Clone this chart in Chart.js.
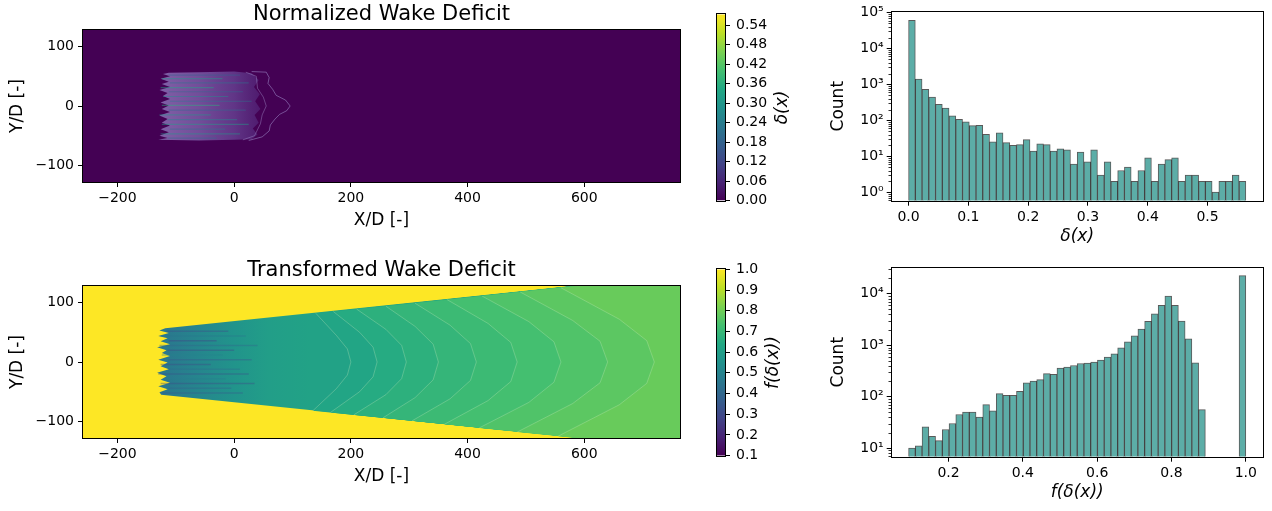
<!DOCTYPE html>
<html>
<head>
<meta charset="utf-8">
<script src="https://cdn.jsdelivr.net/npm/chart.js@4.4.1/dist/chart.umd.min.js"></script>
<style>
  html, body { margin: 0; padding: 0; background: #fff; }
  #fig { position: relative; width: 1272px; height: 511px; overflow: hidden; background: #fff; }
  #fig canvas { position: absolute; }
</style>
</head>
<body>
<div id="fig">
  <canvas id="wakeTop" width="700" height="240" style="left:0;top:0"></canvas>
  <canvas id="wakeBottom" width="700" height="240" style="left:0;top:256px"></canvas>
  <canvas id="cbarTop" width="110" height="215" style="left:700px;top:0"></canvas>
  <canvas id="cbarBottom" width="110" height="215" style="left:700px;top:255px"></canvas>
  <canvas id="histTop" width="452" height="255" style="left:820px;top:0"></canvas>
  <canvas id="histBottom" width="452" height="255" style="left:820px;top:256px"></canvas>
</div>
<script>
// ---- histogram: normalized wake deficit (50 bins) ----
const deficitBinRange = [0.0, 0.564];
const deficitCounts = [61000, 1400, 725, 444, 278, 220, 134, 107, 91, 71,
                       72, 41, 25, 45, 24, 20, 21, 29, 14, 22,
                       21, 14, 16, 15, 6, 13, 7, 15, 3, 7,
                       2, 4, 5, 2, 4, 9, 2, 6, 8, 9,
                       2, 3, 3, 2, 2, 1, 2, 2, 3, 2];
const deficitXRange = [-0.0282, 0.5922];
const deficitXTicks = [0.0, 0.1, 0.2, 0.3, 0.4, 0.5];
const deficitYRange = [0.577, 1.06e5];
const deficitYTicks = [1, 10, 100, 1000, 10000, 100000];

// ---- histogram: transformed wake deficit (50 bins, a gap before the last one) ----
const transBinRange = [0.0925, 1.0];
const transCounts = [10, 11, 26, 17, 14, 23, 30, 45, 50, 50,
                     40, 70, 53, 114, 106, 106, 127, 185, 200, 214,
                     280, 272, 357, 374, 402, 440, 447, 468, 512, 586,
                     680, 889, 1160, 1520, 2060, 2900, 4070, 5910, 9000, 5910,
                     2950, 1330, 454, 56, null, null, null, null, null, 22500];
const transXRange = [0.0471, 1.0454];
const transXTicks = [0.2, 0.4, 0.6, 0.8, 1.0];
const transYRange = [6.8, 32000];
const transYTicks = [10, 100, 1000, 10000];

// ---- wake fields (X/D, Y/D) ----
const wakeXLim = [-259, 764];
const wakeYLim = [-128, 128];
const wakeXTicks = [-200, 0, 200, 400, 600];
const wakeYTicks = [-100, 0, 100];

// colorbar ranges and ticks
const deficitLevels = [0.0, 0.573];
const deficitCbarTicks = [0.00, 0.06, 0.12, 0.18, 0.24, 0.30, 0.36, 0.42, 0.48, 0.54];
const transLevels = [0.1, 1.0];
const transCbarTicks = [0.1, 0.2, 0.3, 0.4, 0.5, 0.6, 0.7, 0.8, 0.9, 1.0];

// normalized deficit: turbulent core just behind the rotor
const deficitCore = [
  [-112, 56], [-122, 54], [-110, 50], [-126, 46], [-112, 41], [-124, 37], [-110, 32],
  [-128, 27], [-114, 22], [-122, 17], [-110, 12], [-126, 6], [-112, 1], [-124, -5],
  [-110, -10], [-128, -16], [-114, -22], [-124, -28], [-110, -33], [-126, -39],
  [-112, -44], [-128, -50], [-114, -54], [-130, -57], [-60, -58], [0, -57], [30, -56],
  [40, -48], [32, -38], [42, -28], [35, -15], [45, -5], [36, 8], [44, 20], [34, 32],
  [42, 44], [30, 55], [0, 58], [-60, 57]
];
const deficitOuterContour = [
  [30, 58], [55, 57], [60, 48], [58, 38], [66, 28], [72, 18], [88, 10], [96, 0],
  [90, -8], [78, -14], [70, -22], [62, -32], [60, -42], [48, -52], [25, -58]
];
const deficitInnerContour = [
  [20, 57], [38, 50], [40, 30], [50, 15], [55, 0], [48, -15], [45, -30], [35, -50], [15, -57]
];
const deficitStreakY  = [52, 46, 39, 31, 24, 16, 8, 1, -7, -15, -23, -31, -39, -47, -54];
const deficitStreakX0 = [-112, -124, -110, -126, -112, -122, -110, -124, -112, -128, -114, -124, -110, -126, -114];
const deficitStreakX1 = [10, -20, 25, -35, 15, -10, 30, -25, 20, -40, 5, 25, -15, 10, -30];
const deficitStreakV  = [0.18, 0.30, 0.22, 0.34, 0.20, 0.28, 0.24, 0.36, 0.20, 0.30, 0.26, 0.32, 0.22, 0.30, 0.20];

// transformed deficit: expanding wake envelope
const transWake = [
  [-118, 57], [-128, 53], [-112, 49], [-130, 44], [-114, 40], [-126, 35], [-110, 30],
  [-132, 25], [-116, 20], [-124, 15], [-110, 10], [-130, 4], [-114, -1], [-126, -7],
  [-112, -12], [-132, -18], [-116, -24], [-126, -30], [-110, -35], [-130, -41],
  [-114, -46], [-128, -51], [-125, -55], [764, -145], [764, 147]
];
// ")"-shaped level lines inside the wake and the level above each one
const transBands = [
  [[140, 82], [175, 45], [194, 22], [200, 0], [194, -22], [175, -45], [135, -82]],
  [[170, 85], [215, 50], [238, 25], [245, 0], [238, -25], [215, -50], [165, -85]],
  [[210, 89], [260, 55], [287, 28], [295, 0], [287, -28], [260, -55], [205, -89]],
  [[260, 94], [310, 60], [341, 30], [350, 0], [341, -30], [310, -60], [255, -94]],
  [[310, 99], [370, 62], [405, 31], [415, 0], [405, -31], [370, -62], [305, -99]],
  [[365, 105], [435, 65], [474, 33], [485, 0], [474, -33], [435, -65], [360, -105]],
  [[425, 111], [505, 68], [548, 34], [560, 0], [548, -34], [505, -68], [420, -111]],
  [[490, 118], [580, 70], [627, 35], [640, 0], [627, -35], [580, -70], [485, -118]],
  [[560, 125], [660, 72], [707, 36], [720, 0], [707, -36], [660, -72], [555, -125]]
];
const transBandLevels = [0.63, 0.65, 0.67, 0.69, 0.71, 0.73, 0.75, 0.77, 0.79];
const transGradX = [-130, -60, 0, 60, 130, 764];
const transGradV = [0.45, 0.51, 0.56, 0.6, 0.615, 0.615];
const transStreakY  = [52, 44, 36, 28, 20, 12, 4, -4, -12, -20, -28, -36, -44, -52];
const transStreakX0 = [-116, -126, -112, -128, -114, -124, -112, -126, -112, -130, -116, -126, -112, -124];
const transStreakX1 = [-10, 20, -30, 40, 0, -20, 30, -40, 10, 25, -15, 35, -5, 15];
const transStreakV  = [0.32, 0.45, 0.28, 0.40, 0.30, 0.50, 0.35, 0.30, 0.42, 0.33, 0.48, 0.30, 0.40, 0.36];

// ---- colormap ----
const viridisStops = ['#440154', '#482475', '#414487', '#355f8d', '#2a788e', '#21918c',
                      '#22a884', '#44bf70', '#7ad151', '#bddf26', '#fde725'];
const viridisRgb = viridisStops.map(h => [1, 3, 5].map(i => parseInt(h.slice(i, i + 2), 16)));
function viridis(t, a = 1) {
  t = Math.min(1, Math.max(0, t));
  const p = t * (viridisRgb.length - 1);
  const i = Math.min(Math.floor(p), viridisRgb.length - 2);
  const f = p - i;
  const c = viridisRgb[i].map((v, k) => Math.round(v + (viridisRgb[i + 1][k] - v) * f));
  return `rgba(${c[0]},${c[1]},${c[2]},${a})`;
}
const deficitColor = (v, a) => viridis((v - deficitLevels[0]) / (deficitLevels[1] - deficitLevels[0]), a);
const transColor = (v, a) => viridis((v - transLevels[0]) / (transLevels[1] - transLevels[0]), a);

// ---- shared setup ----
Chart.defaults.font.family = 'DejaVu Sans';
Chart.defaults.color = '#000';
Chart.defaults.animation = false;
Chart.defaults.responsive = false;
Chart.defaults.devicePixelRatio = 1;
Chart.defaults.events = [];
Chart.defaults.plugins.legend.display = false;
Chart.defaults.plugins.tooltip.enabled = false;

const sup = {0: '\u2070', 1: '\u00b9', 2: '\u00b2', 3: '\u00b3', 4: '\u2074', 5: '\u2075'};
const fmtPow = v => '10' + sup[Math.round(Math.log10(v))];
const fmtSigned = v => (v < 0 ? '\u2212' + Math.abs(v) : String(v));
const useTicks = list => scale => { scale.ticks = list.map(v => ({value: v})); };

const areaBg = {
  id: 'areaBg',
  beforeDatasetsDraw(chart, args, opts) {
    const a = chart.chartArea, ctx = chart.ctx;
    ctx.save();
    ctx.fillStyle = opts.color;
    ctx.fillRect(a.left, a.top, a.right - a.left, a.bottom - a.top);
    ctx.restore();
  }
};

// full box of spines around the plotting area
const frame = {
  id: 'frame',
  afterDatasetsDraw(chart) {
    const a = chart.chartArea, ctx = chart.ctx;
    ctx.save();
    ctx.strokeStyle = '#000';
    ctx.lineWidth = 1;
    const l = Math.round(a.left) - 0.5, t = Math.round(a.top) - 0.5;
    ctx.strokeRect(l, t, Math.round(a.right) - Math.round(a.left) + 1, Math.round(a.bottom) - Math.round(a.top) + 1);
    ctx.restore();
  }
};

// minor ticks (2..9 x 10^n) on logarithmic y axes
const minorTicks = {
  id: 'minorTicks',
  afterDraw(chart) {
    const s = chart.scales.y;
    if (!s || s.type !== 'logarithmic') return;
    const ctx = chart.ctx, x = Math.round(chart.chartArea.left) - 0.5;
    ctx.save();
    ctx.strokeStyle = '#000';
    ctx.lineWidth = 0.8;
    for (let d = Math.floor(Math.log10(s.min)); d <= Math.ceil(Math.log10(s.max)); d++) {
      for (let k = 2; k <= 9; k++) {
        const v = k * Math.pow(10, d);
        if (v < s.min || v > s.max) continue;
        const y = Math.round(s.getPixelForValue(v)) + 0.5;
        ctx.beginPath();
        ctx.moveTo(x, y);
        ctx.lineTo(x - 3, y);
        ctx.stroke();
      }
    }
    ctx.restore();
  }
};

// rotated colorbar label, reading bottom to top
const cbarLabel = {
  id: 'cbarLabel',
  afterDraw(chart, args, opts) {
    const a = chart.chartArea, ctx = chart.ctx;
    ctx.save();
    ctx.translate(opts.x, (a.top + a.bottom) / 2);
    ctx.rotate(-Math.PI / 2);
    ctx.font = 'italic 17px "DejaVu Sans"';
    ctx.fillStyle = '#000';
    ctx.textAlign = 'center';
    ctx.textBaseline = 'middle';
    ctx.fillText(opts.text, 0, 0);
    ctx.restore();
  }
};

const tickGrid = {drawOnChartArea: false, drawTicks: true, tickLength: 5, tickColor: '#000', tickWidth: 1, offset: false};

function poly(points, opts) {
  return Object.assign({
    data: points.map(p => ({x: p[0], y: p[1]})),
    pointRadius: 0, tension: 0, borderWidth: 0, fill: false, clip: 0
  }, opts);
}

// horizontal gradient along X/D for wake fills
function xGradient(xs, colors) {
  return c => {
    const chart = c.chart;
    if (!chart.chartArea) return 'rgba(0,0,0,0)';
    const sx = chart.scales.x;
    const x0 = sx.getPixelForValue(xs[0]), x1 = sx.getPixelForValue(xs[xs.length - 1]);
    const g = chart.ctx.createLinearGradient(x0, 0, x1, 0);
    xs.forEach((x, i) => g.addColorStop((x - xs[0]) / (xs[xs.length - 1] - xs[0]), colors[i]));
    return g;
  };
}

function wakeChart(id, title, bg, datasets) {
  const n = datasets.length;
  datasets.forEach((d, i) => { d.order = n - i; });
  return new Chart(document.getElementById(id), {
    type: 'line',
    data: {datasets},
    plugins: [areaBg, frame],
    options: {
      layout: {padding: {left: 0, right: 20, top: 0, bottom: 0}},
      plugins: {
        areaBg: {color: bg},
        title: {
          display: true, text: title, fullSize: false,
          font: {size: 21, weight: 'normal'}, color: '#000', padding: {top: 2.4, bottom: 2.4}
        }
      },
      scales: {
        x: {
          type: 'linear', min: wakeXLim[0], max: wakeXLim[1],
          afterBuildTicks: useTicks(wakeXTicks),
          afterFit: s => { s.height = 58; },
          ticks: {callback: fmtSigned, font: {size: 14}, padding: 3, maxRotation: 0, autoSkip: false},
          grid: tickGrid, border: {display: false},
          title: {display: true, text: 'X/D [-]', font: {size: 17}, padding: {top: 0, bottom: 9.5}}
        },
        y: {
          type: 'linear', min: wakeYLim[0], max: wakeYLim[1],
          afterBuildTicks: useTicks(wakeYTicks),
          afterFit: s => { s.width = 83; },
          ticks: {callback: fmtSigned, font: {size: 14}, padding: 4, autoSkip: false},
          grid: tickGrid, border: {display: false},
          title: {display: true, text: 'Y/D [-]', font: {size: 17}, padding: {top: 7.3, bottom: 0}}
        }
      }
    }
  });
}

// ---- normalized wake deficit field ----
const deficitSets = [
  poly(deficitCore, {
    fill: 'shape',
    backgroundColor: xGradient([-130, -60, 0, 45], [
      'rgba(160,145,210,0.66)', 'rgba(145,128,200,0.6)', 'rgba(125,105,185,0.5)', 'rgba(100,75,160,0.35)'
    ])
  })
];
deficitStreakY.forEach((y, i) => {
  deficitSets.push(poly([[deficitStreakX0[i], y], [deficitStreakX1[i], y]], {
    borderWidth: 1.2, borderColor: deficitColor(deficitStreakV[i], 0.45)
  }));
});
deficitSets.push(poly(deficitInnerContour, {borderWidth: 0.7, borderColor: 'rgba(165,150,210,0.6)'}));
deficitSets.push(poly(deficitOuterContour, {borderWidth: 0.7, borderColor: 'rgba(165,150,210,0.75)'}));
wakeChart('wakeTop', 'Normalized Wake Deficit', viridisStops[0], deficitSets);

// ---- transformed wake deficit field ----
const transSets = [
  poly(transWake, {fill: 'shape', backgroundColor: xGradient(transGradX, transGradV.map(v => transColor(v, 1)))})
];
// filled bands to the right of each level line
transBands.forEach((band, k) => {
  transSets.push(poly([[764, 147]].concat(band, [[764, -145]]), {
    fill: 'shape',
    backgroundColor: transColor(transBandLevels[k], 1)
  }));
});
// thin light edges of the bands
transBands.forEach(band => {
  transSets.push(poly(band, {borderWidth: 0.8, borderColor: 'rgba(215,240,195,0.35)'}));
});
transStreakY.forEach((y, i) => {
  transSets.push(poly([[transStreakX0[i], y], [transStreakX1[i], y]], {
    borderWidth: 1.5, borderColor: transColor(transStreakV[i], 0.4)
  }));
});
wakeChart('wakeBottom', 'Transformed Wake Deficit', viridisStops[viridisStops.length - 1], transSets);

// ---- colorbars ----
function colorbar(id, levels, ticks, digits, label, labelX, padTop) {
  return new Chart(document.getElementById(id), {
    type: 'bar',
    data: {
      labels: [''],
      datasets: [{
        data: [[levels[0], levels[1]]],
        barPercentage: 1, categoryPercentage: 1, borderWidth: 0,
        backgroundColor: c => {
          const a = c.chart.chartArea;
          if (!a) return 'rgba(0,0,0,0)';
          const g = c.chart.ctx.createLinearGradient(0, a.bottom, 0, a.top);
          viridisStops.forEach((s, i) => g.addColorStop(i / (viridisStops.length - 1), s));
          return g;
        }
      }]
    },
    plugins: [frame, cbarLabel],
    options: {
      layout: {padding: {left: 16.7, right: 0, top: padTop, bottom: 13.3}},
      plugins: {cbarLabel: {text: label, x: labelX}},
      scales: {
        x: {display: false},
        y: {
          position: 'right', min: levels[0], max: levels[1],
          afterBuildTicks: useTicks(ticks),
          afterFit: s => { s.width = 85; },
          ticks: {callback: v => v.toFixed(digits), font: {size: 14}, padding: 6, autoSkip: false},
          grid: tickGrid, border: {display: false}
        }
      }
    }
  });
}
colorbar('cbarTop', deficitLevels, deficitCbarTicks, 2, '\u03b4(x)', 82.5, 11.7);
colorbar('cbarBottom', transLevels, transCbarTicks, 1, 'f(\u03b4(x))', 74, 12.7);

// ---- histograms ----
function histogram(id, binRange, counts, xRange, xTicks, yRange, yTicks, xLabel) {
  const w = (binRange[1] - binRange[0]) / counts.length;
  return new Chart(document.getElementById(id), {
    type: 'bar',
    data: {
      datasets: [{
        data: counts.map((c, i) => ({x: binRange[0] + (i + 0.5) * w, y: c})),
        barPercentage: 1, categoryPercentage: 1,
        backgroundColor: '#5cada7',
        borderColor: 'rgba(0,0,0,0.65)',
        borderWidth: 1
      }]
    },
    plugins: [frame, minorTicks],
    options: {
      layout: {padding: {left: 0, right: 9.3, top: 11.7, bottom: 0}},
      scales: {
        x: {
          type: 'linear', offset: false, min: xRange[0], max: xRange[1],
          afterBuildTicks: useTicks(xTicks),
          afterFit: s => { s.height = 54.3; },
          ticks: {callback: v => v.toFixed(1), font: {size: 14}, padding: 3, maxRotation: 0, autoSkip: false},
          grid: tickGrid, border: {display: false},
          title: {display: true, text: xLabel, font: {size: 17, style: 'italic'}, padding: {top: 0, bottom: 7.8}}
        },
        y: {
          type: 'logarithmic', min: yRange[0], max: yRange[1],
          afterBuildTicks: useTicks(yTicks),
          afterFit: s => { s.width = 71.7; },
          ticks: {callback: fmtPow, font: {size: 14}, padding: 3, autoSkip: false},
          grid: tickGrid, border: {display: false},
          title: {display: true, text: 'Count', font: {size: 17}, padding: {top: 8.8, bottom: 0}}
        }
      }
    }
  });
}
histogram('histTop', deficitBinRange, deficitCounts, deficitXRange, deficitXTicks, deficitYRange, deficitYTicks, '\u03b4(x)');
histogram('histBottom', transBinRange, transCounts, transXRange, transXTicks, transYRange, transYTicks, 'f(\u03b4(x))');
</script>
</body>
</html>
